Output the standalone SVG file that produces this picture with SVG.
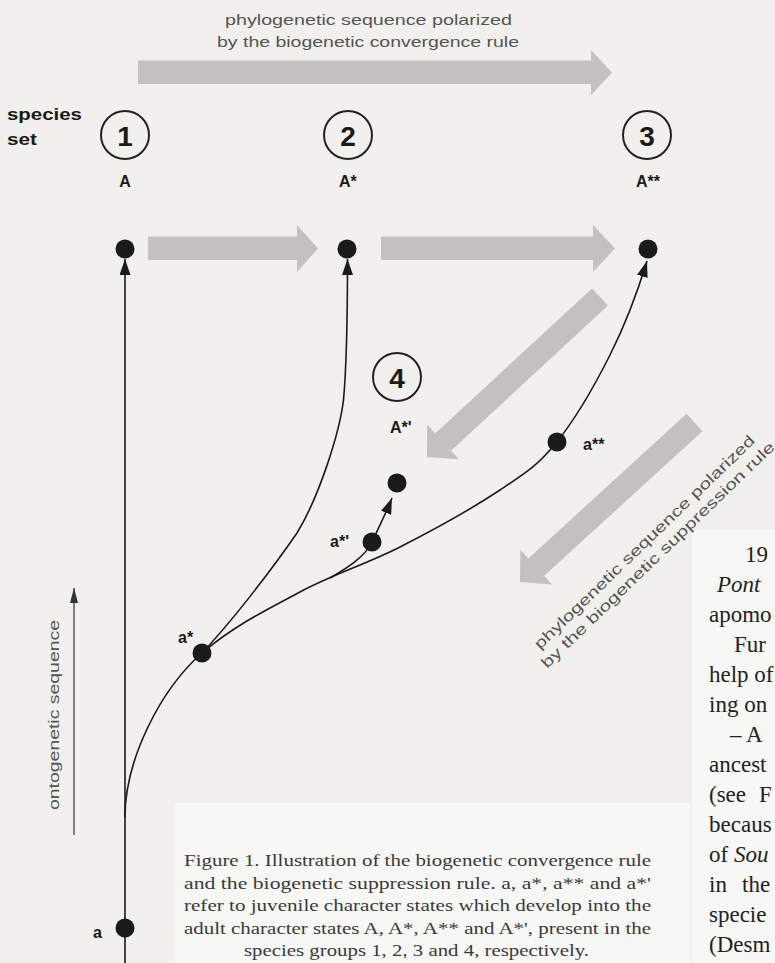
<svg xmlns="http://www.w3.org/2000/svg" width="775" height="963" viewBox="0 0 775 963">
<style>
.bg{fill:#f1f0ec}
.panel{fill:#f7f7f5}
.garrow{fill:#c2c1bf}
.ln{fill:none;stroke:#1a1a1a;stroke-width:1.6}
.dot{fill:#1a1a1a}
.circ{fill:none;stroke:#222;stroke-width:2}
.num{font-family:"Liberation Sans",Arial,sans-serif;font-weight:bold;font-size:28px;fill:#1a1a1a;text-anchor:middle}
.lab{font-family:"Liberation Sans",Arial,sans-serif;font-weight:bold;font-size:16px;fill:#1a1a1a}
.light{font-family:"Liberation Sans",Arial,sans-serif;font-size:15px;fill:#555}
.cap{font-family:"Liberation Serif","Times New Roman",serif;font-size:17.5px;fill:#3a3a3a}
.body{font-family:"Liberation Serif","Times New Roman",serif;font-size:23px;fill:#222}
</style>
<defs>
<marker id="ah" viewBox="0 0 16 11" refX="16" refY="5.5" markerUnits="userSpaceOnUse" markerWidth="16" markerHeight="11" orient="auto">
<path d="M0,0 L16,5.5 L0,11 z" fill="#1a1a1a"/>
</marker>
<marker id="ahs" viewBox="0 0 15 8" refX="15" refY="4" markerUnits="userSpaceOnUse" markerWidth="15" markerHeight="8" orient="auto">
<path d="M0,0 L15,4 L0,8 z" fill="#333"/>
</marker>
</defs>
<rect class="bg" x="0" y="0" width="775" height="963"/>
<rect class="panel" x="175" y="803" width="515" height="160"/>
<rect class="panel" x="692" y="530" width="83" height="433"/>

<g id="title">
<text class="light" x="225" y="25" textLength="287" lengthAdjust="spacingAndGlyphs">phylogenetic sequence polarized</text>
<text class="light" x="217" y="47" textLength="302" lengthAdjust="spacingAndGlyphs">by the biogenetic convergence rule</text>
</g>
<g id="species-set">
<text class="lab" x="7" y="120" font-size="17" textLength="75" lengthAdjust="spacingAndGlyphs">species</text>
<text class="lab" x="7" y="145" font-size="17" textLength="30" lengthAdjust="spacingAndGlyphs">set</text>
</g>

<g id="gray-arrows">
<polygon class="garrow" points="138,60.5 591,60.5 591,50 612,72.5 591,95 591,84 138,84"/>
<polygon class="garrow" points="148,236.5 297,236.5 297,225 318,248.5 297,272 297,260 148,260"/>
<polygon class="garrow" points="381,236.5 593,236.5 593,225 615,248.5 593,272 593,260 381,260"/>
<polygon class="garrow" points="592,288.4 435.2,433.4 427.2,424.8 427,457 459.1,459.3 451.1,450.7 608,305.6"/>
<polygon class="garrow" points="686.6,413.8 528.3,558.5 520.4,549.8 520,582 552.1,584.5 544.2,575.8 702.4,431.2"/>
</g>

<g id="node1">
<circle class="circ" cx="125" cy="135" r="24"/>
<text class="num" x="125" y="146">1</text>
<text class="lab" x="125" y="187" text-anchor="middle">A</text>
<circle class="dot" cx="125" cy="249" r="9.5"/>
</g>
<g id="node2">
<circle class="circ" cx="348" cy="135" r="24"/>
<text class="num" x="348" y="146">2</text>
<text class="lab" x="339" y="187">A*</text>
<circle class="dot" cx="347" cy="249" r="9.5"/>
</g>
<g id="node3">
<circle class="circ" cx="647" cy="135" r="24"/>
<text class="num" x="647" y="146">3</text>
<text class="lab" x="636" y="187">A**</text>
<circle class="dot" cx="648" cy="249" r="9.5"/>
</g>
<g id="node4">
<circle class="circ" cx="397" cy="377" r="24"/>
<text class="num" x="397" y="388">4</text>
<text class="lab" x="390" y="433">A*'</text>
<circle class="dot" cx="397" cy="483" r="9.5"/>
</g>

<g id="connectors">
<path class="ln" d="M125,963 L125,259" marker-end="url(#ah)"/>
<path class="ln" d="M125,817 C125,760 160,690 202,653 C235,618 275,565 297,533 C319,497 339.5,433 343.5,400 C346.5,367 347.5,310 347.5,259" marker-end="url(#ah)"/>
<path class="ln" d="M202,653 C235,625 267,609.7 300,592 C333,574.3 366.7,564 400,547 C433.3,530 474,507.3 500,490 C526,472.7 537.7,465.5 556,443 C574.3,420.5 594.8,385.2 610,355 C625.2,324.8 637.4,292.4 647,261" marker-end="url(#ah)"/>
<path class="ln" d="M330,578 C347,568 365,557 372,542 C379,527 386,513 392,498" marker-end="url(#ah)"/>
<path fill="none" stroke="#333" stroke-width="1.2" d="M74,835 L74,588" marker-end="url(#ahs)"/>
</g>

<g id="juveniles">
<circle class="dot" cx="125" cy="928" r="9.5"/>
<text class="lab" x="93" y="938">a</text>
<circle class="dot" cx="202" cy="653" r="9.5"/>
<text class="lab" x="178" y="643">a*</text>
<circle class="dot" cx="372" cy="542" r="9.5"/>
<text class="lab" x="330" y="547">a*'</text>
<circle class="dot" cx="557" cy="442" r="9.5"/>
<text class="lab" x="583" y="450">a**</text>
</g>

<g id="side-labels">
<text class="light" font-size="16" transform="translate(58.5,715) rotate(-90)" text-anchor="middle" textLength="190" lengthAdjust="spacingAndGlyphs">ontogenetic sequence</text>
<text class="light" transform="translate(540,650) rotate(-44)" textLength="300" lengthAdjust="spacingAndGlyphs">phylogenetic sequence polarized</text>
<text class="light" transform="translate(547,669) rotate(-44)" textLength="318" lengthAdjust="spacingAndGlyphs">by the biogenetic suppression rule</text>
</g>

<g id="caption">
<text class="cap" x="184" y="866" textLength="467" lengthAdjust="spacingAndGlyphs">Figure 1. Illustration of the biogenetic convergence rule</text>
<text class="cap" x="184" y="888.5" textLength="467" lengthAdjust="spacingAndGlyphs">and the biogenetic suppression rule. a, a*, a** and a*'</text>
<text class="cap" x="184" y="911" textLength="467" lengthAdjust="spacingAndGlyphs">refer to juvenile character states which develop into the</text>
<text class="cap" x="184" y="933.5" textLength="467" lengthAdjust="spacingAndGlyphs">adult character states A, A*, A**  and A*', present in the</text>
<text class="cap" x="416.5" y="956" text-anchor="middle" textLength="345" lengthAdjust="spacingAndGlyphs">species groups 1, 2, 3 and 4, respectively.</text>
</g>

<g id="body-text">
<text class="body" x="745" y="562">19</text>
<text class="body" x="717" y="592" font-style="italic">Pont</text>
<text class="body" x="709" y="622">apomo</text>
<text class="body" x="734" y="652">Fur</text>
<text class="body" x="709" y="682">help of</text>
<text class="body" x="709" y="712">ing on</text>
<text class="body" x="730" y="742">– A</text>
<text class="body" x="709" y="772">ancest</text>
<text class="body" x="709" y="802">(see<tspan x="759">F</tspan></text>
<text class="body" x="709" y="832">becaus</text>
<text class="body" x="709" y="862">of <tspan font-style="italic">Sou</tspan></text>
<text class="body" x="709" y="892">in<tspan x="742">the</tspan></text>
<text class="body" x="709" y="922">specie</text>
<text class="body" x="709" y="952">(Desm</text>
</g>
</svg>
